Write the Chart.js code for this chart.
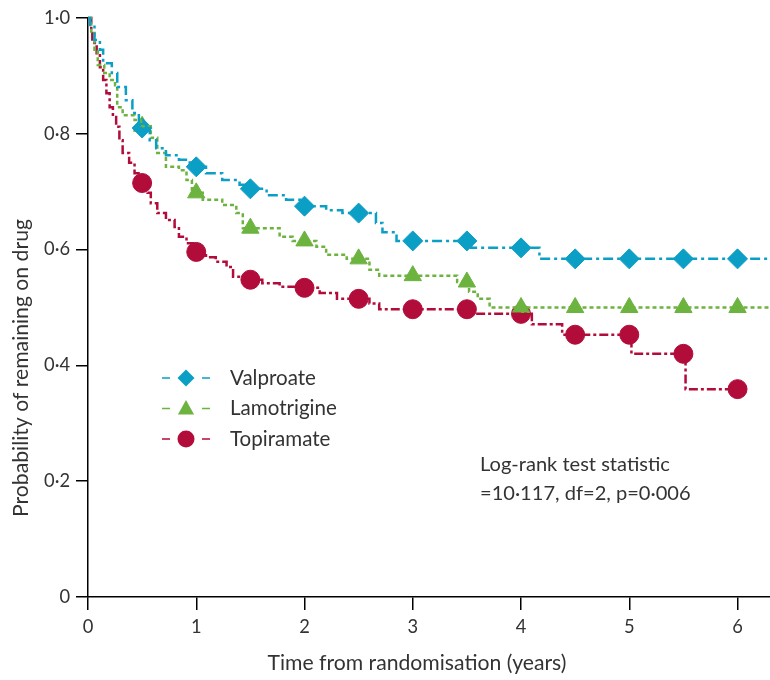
<!DOCTYPE html>
<html>
<head>
<meta charset="utf-8">
<script src="https://cdn.jsdelivr.net/npm/chart.js@4/dist/chart.umd.min.js"></script>
<style>
  body { margin: 0; background: #fff; }
</style>
</head>
<body>
<canvas id="km" width="770" height="680"></canvas>
<script>
// --- data ---
let seriesNames = ["Valproate", "Lamotrigine", "Topiramate"];

// step curves: time (years) of each drop, survival after the drop
let valproateT = [0, 0.02, 0.06, 0.11, 0.14, 0.22, 0.27, 0.35, 0.41, 0.47, 0.57, 0.63, 0.72, 0.84, 0.94, 1.09, 1.24, 1.40, 1.47, 1.65, 1.83, 1.96, 2.20, 2.35, 2.66, 2.72, 2.85, 3.54, 4.17, 6.3];
let valproateS = [1.0, 0.988, 0.962, 0.945, 0.922, 0.905, 0.881, 0.858, 0.836, 0.810, 0.789, 0.775, 0.763, 0.755, 0.743, 0.732, 0.720, 0.712, 0.705, 0.694, 0.686, 0.675, 0.668, 0.663, 0.646, 0.630, 0.615, 0.603, 0.584, 0.584];

let lamotrigineT = [0, 0.03, 0.06, 0.09, 0.15, 0.20, 0.25, 0.27, 0.32, 0.43, 0.49, 0.58, 0.64, 0.72, 0.84, 0.91, 0.96, 1.06, 1.24, 1.37, 1.43, 1.77, 1.89, 2.11, 2.20, 2.39, 2.60, 2.69, 3.41, 3.52, 3.60, 3.71, 6.3];
let lamotrigineS = [1.0, 0.974, 0.945, 0.919, 0.905, 0.893, 0.884, 0.846, 0.832, 0.824, 0.813, 0.793, 0.767, 0.743, 0.737, 0.720, 0.698, 0.686, 0.677, 0.663, 0.637, 0.622, 0.615, 0.605, 0.591, 0.584, 0.565, 0.555, 0.544, 0.527, 0.515, 0.500, 0.500];

let topiramateT = [0, 0.03, 0.04, 0.08, 0.11, 0.14, 0.17, 0.20, 0.23, 0.26, 0.29, 0.32, 0.38, 0.43, 0.48, 0.55, 0.58, 0.64, 0.72, 0.80, 0.84, 0.91, 0.97, 1.09, 1.18, 1.28, 1.34, 1.45, 1.61, 1.77, 1.95, 2.14, 2.30, 2.60, 2.69, 3.54, 4.10, 4.38, 5.02, 5.52, 6.0];
let topiramateS = [1.0, 0.979, 0.957, 0.939, 0.915, 0.893, 0.870, 0.846, 0.829, 0.812, 0.789, 0.767, 0.750, 0.732, 0.715, 0.698, 0.680, 0.663, 0.651, 0.639, 0.622, 0.611, 0.596, 0.587, 0.579, 0.570, 0.553, 0.548, 0.542, 0.536, 0.534, 0.525, 0.515, 0.507, 0.497, 0.489, 0.471, 0.453, 0.420, 0.359, 0.359];

// marker positions (every half year)
let markerT = [0.5, 1, 1.5, 2, 2.5, 3, 3.5, 4, 4.5, 5, 5.5, 6];
let valproateM = [0.810, 0.743, 0.705, 0.675, 0.663, 0.615, 0.615, 0.603, 0.584, 0.584, 0.584, 0.584];
let lamotrigineM = [0.813, 0.698, 0.637, 0.615, 0.584, 0.555, 0.544, 0.500, 0.500, 0.500, 0.500, 0.500];
let topiramateM = [0.715, 0.596, 0.548, 0.534, 0.515, 0.497, 0.497, 0.489, 0.453, 0.453, 0.420, 0.359];

let xTicks = [0, 1, 2, 3, 4, 5, 6];
let yTicks = [0, 0.2, 0.4, 0.6, 0.8, 1.0];
let xTitle = "Time from randomisation (years)";
let yTitle = "Probability of remaining on drug";
let noteLines = ["Log-rank test statistic", "=10\u00b7117, df=2, p=0\u00b7006"];

// --- styles ---
let colors = ["#0b9fc6", "#6cb33f", "#b20c3a"];
let dashes = [[10, 4, 3, 4], [4, 3], [9, 3, 3, 3]];
let shapes = ["rectRot", "triangle", "circle"];
let radii = [10, 10, 9.5];
let FONT = "Lato, 'Open Sans', sans-serif";
let TXT = "#333";

// font size that makes a text a given width
let mctx = document.createElement("canvas").getContext("2d");
function fitSize(text, w) {
  mctx.font = "100px " + FONT;
  return 100 * w / mctx.measureText(text).width;
}
let tickSize = fitSize("0\u00b76", 26);
let titleSize = fitSize(xTitle, 299);
let legendSize = fitSize("Valproate", 86);
let noteSize = fitSize(noteLines[0], 190);

function pts(t, s) { return t.map((x, i) => ({ x: x, y: s[i] })); }

let curves = [[valproateT, valproateS], [lamotrigineT, lamotrigineS], [topiramateT, topiramateS]];
let markers = [valproateM, lamotrigineM, topiramateM];

let datasets = [];
seriesNames.forEach((name, i) => {
  datasets.push({
    label: name,
    data: pts(curves[i][0], curves[i][1]),
    showLine: true,
    stepped: true,
    borderColor: colors[i],
    borderWidth: 2.5,
    borderDash: dashes[i],
    pointRadius: 0,
    fill: false
  });
});
seriesNames.forEach((name, i) => {
  datasets.push({
    label: name + " markers",
    data: pts(markerT, markers[i]),
    showLine: false,
    pointStyle: shapes[i],
    pointRadius: radii[i],
    pointBackgroundColor: colors[i],
    pointBorderColor: colors[i],
    pointBorderWidth: 1
  });
});

function drawShape(ctx, shape, x, y, r, color) {
  ctx.save();
  ctx.fillStyle = color;
  ctx.beginPath();
  if (shape === "circle") {
    ctx.arc(x, y, r, 0, Math.PI * 2);
  } else if (shape === "triangle") {
    ctx.moveTo(x, y - r);
    ctx.lineTo(x + r * 0.95, y + r * 0.7);
    ctx.lineTo(x - r * 0.95, y + r * 0.7);
    ctx.closePath();
  } else {
    ctx.moveTo(x, y - r);
    ctx.lineTo(x + r, y);
    ctx.lineTo(x, y + r);
    ctx.lineTo(x - r, y);
    ctx.closePath();
  }
  ctx.fill();
  ctx.restore();
}

// legend, axis titles, log-rank note
let extras = {
  id: "extras",
  afterDraw(chart) {
    let ctx = chart.ctx;
    let x0 = 162, y0 = 378, gap = 30.5;
    seriesNames.forEach((name, i) => {
      let y = y0 + i * gap;
      ctx.save();
      ctx.strokeStyle = colors[i];
      ctx.lineWidth = 1.3;
      ctx.beginPath();
      ctx.moveTo(x0, y); ctx.lineTo(x0 + 8, y);
      ctx.moveTo(x0 + 40, y); ctx.lineTo(x0 + 48, y);
      ctx.stroke();
      ctx.restore();
      drawShape(ctx, shapes[i], x0 + 24, y, 8.5, colors[i]);
      ctx.save();
      ctx.fillStyle = TXT;
      ctx.font = legendSize + "px " + FONT;
      ctx.textBaseline = "middle";
      ctx.fillText(name, 230, y);
      ctx.restore();
    });

    ctx.save();
    ctx.fillStyle = TXT;
    ctx.font = noteSize + "px " + FONT;
    ctx.textBaseline = "middle";
    noteLines.forEach((ln, i) => ctx.fillText(ln, 480, 465 + i * 29));

    ctx.font = titleSize + "px " + FONT;
    ctx.textAlign = "center";
    ctx.fillText(xTitle, 417, 663);
    ctx.translate(21, 368);
    ctx.rotate(-Math.PI / 2);
    ctx.fillText(yTitle, 0, 0);
    ctx.restore();
  }
};

function fmt(v) { return v === 0 ? "0" : v.toFixed(1).replace(".", "\u00b7"); }

new Chart("km", {
  type: "scatter",
  data: { datasets: datasets },
  plugins: [extras],
  options: {
    responsive: false,
    animation: false,
    clip: false,
    layout: { autoPadding: false, padding: { top: 18, right: 0, left: 0, bottom: 0 } },
    plugins: { legend: { display: false }, tooltip: { enabled: false } },
    scales: {
      x: {
        type: "linear",
        min: 0, max: 6.3,
        afterBuildTicks: s => { s.ticks = xTicks.map(v => ({ value: v })); },
        afterFit: s => { s.height = 83; s.paddingRight = 0; s.paddingLeft = 0; },
        grid: { drawOnChartArea: false, tickLength: 13, color: "#000", lineWidth: 1.5 },
        border: { color: "#000", width: 1.5 },
        ticks: { color: TXT, font: { family: FONT, size: tickSize }, padding: 6 }
      },
      y: {
        min: 0, max: 1,
        afterBuildTicks: s => { s.ticks = yTicks.map(v => ({ value: v })); },
        afterFit: s => { s.width = 88; },
        grid: { drawOnChartArea: false, tickLength: 12, color: "#000", lineWidth: 1.5 },
        border: { color: "#000", width: 1.5 },
        ticks: { color: TXT, font: { family: FONT, size: tickSize }, padding: 6, callback: v => fmt(v) }
      }
    }
  }
});
</script>
</body>
</html>
